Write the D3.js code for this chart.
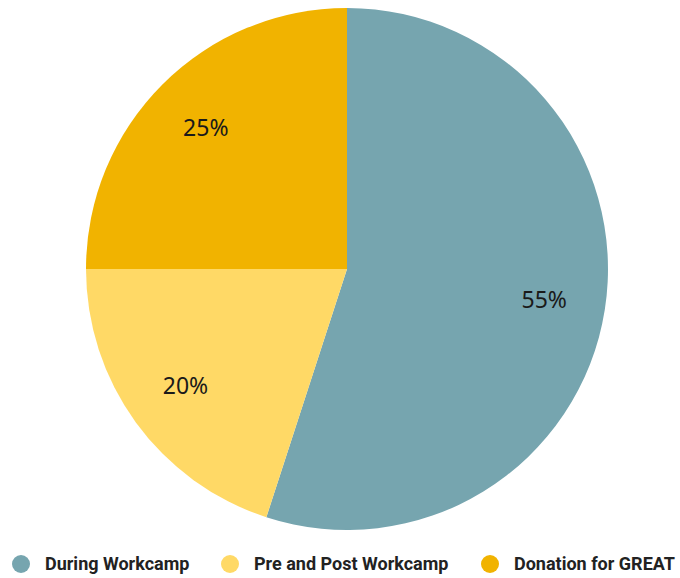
<!DOCTYPE html>
<html>
<head>
  <meta charset="utf-8">
  <style>
    body { margin: 0; background: #ffffff; }
    .slice-label { font-family: "Noto Sans", "Open Sans", sans-serif; font-size: 23px; fill: #1a1a1a; }
    .legend-text { font-family: Roboto, sans-serif; font-weight: bold; font-size: 18px; fill: #222222; }
  </style>
</head>
<body>
  <div id="chart"></div>
  <script src="https://d3js.org/d3.v7.min.js"></script>
  <script>
    var categories = ['During Workcamp', 'Pre and Post Workcamp', 'Donation for GREAT'];
    var values = [55, 20, 25];
    var colors = ['#76a5af', '#ffd966', '#f1b300'];

    var width = 680, height = 578;
    var cx = 347, cy = 269, radius = 261;

    var svg = d3.select('#chart').append('svg')
      .attr('width', width)
      .attr('height', height);

    var data = categories.map(function (c, i) { return { name: c, value: values[i], color: colors[i] }; });

    var pie = d3.pie().sort(null).value(function (d) { return d.value; });
    var arc = d3.arc().innerRadius(0).outerRadius(radius);
    var labelArc = d3.arc().innerRadius(radius * 0.765).outerRadius(radius * 0.765);
    var total = d3.sum(values);

    var g = svg.append('g').attr('transform', 'translate(' + cx + ',' + cy + ')');

    var slices = g.selectAll('.slice')
      .data(pie(data))
      .enter()
      .append('g')
      .attr('class', 'slice');

    slices.append('path')
      .attr('d', arc)
      .attr('fill', function (d) { return d.data.color; });

    slices.append('text')
      .attr('class', 'slice-label')
      .attr('transform', function (d) { return 'translate(' + labelArc.centroid(d) + ')'; })
      .attr('text-anchor', 'middle')
      .attr('dy', '0.35em')
      .text(function (d) { return Math.round(d.data.value / total * 100) + '%'; });

    // legend
    var legendX = [21, 230, 490];
    var legend = svg.selectAll('.legend')
      .data(data)
      .enter()
      .append('g')
      .attr('class', 'legend')
      .attr('transform', function (d, i) { return 'translate(' + legendX[i] + ',564)'; });

    legend.append('circle')
      .attr('r', 9)
      .attr('fill', function (d) { return d.color; });

    legend.append('text')
      .attr('class', 'legend-text')
      .attr('x', 24)
      .attr('dy', '0.35em')
      .text(function (d) { return d.name; });
  </script>
</body>
</html>
